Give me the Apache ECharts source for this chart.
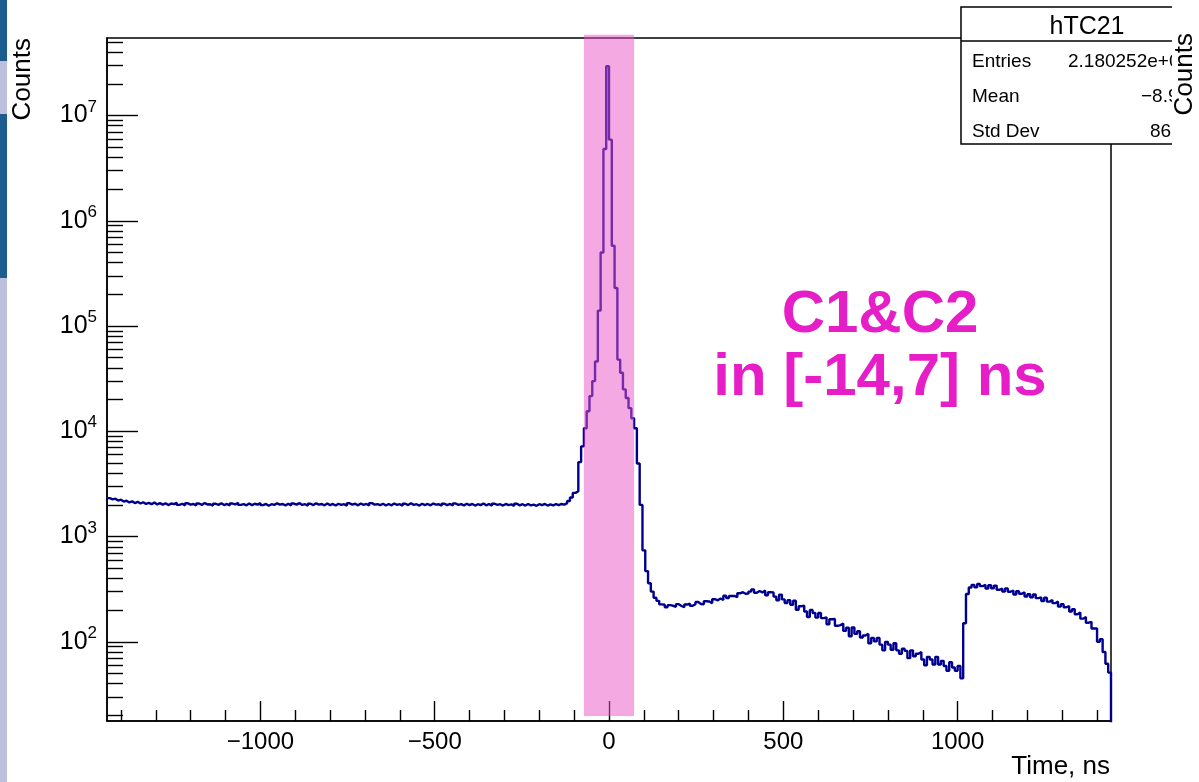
<!DOCTYPE html>
<html><head><meta charset="utf-8">
<script src="https://cdn.jsdelivr.net/npm/echarts@6/dist/echarts.min.js"></script>
<style>html,body{margin:0;padding:0;background:#fff}#c{width:1199px;height:782px}</style>
</head><body><div id="c"></div>
<script>
// ---- histogram hTC21 (8 ns bins from -1440 to 1440 ns) ----
const binStart = -1440;
const binWidth = 8;
// -1440 .. -104 ns : flat random-coincidence level
const flatCounts = [
2320,2260,2290,2200,2240,2150,2190,2110,2160,2080,
2140,2060,2120,2040,2090,2030,2110,2020,2080,2010,
2070,1990,2060,2030,2090,2000,2050,1980,2070,2010,
2040,1970,2060,2000,2080,2020,2030,1960,2050,2000,
2070,1990,2040,1970,2060,2020,2090,2000,2030,1980,
2060,1990,2050,2010,2080,1990,2040,1960,2030,2000,
2070,2010,2040,1980,2050,1970,2060,2010,2080,2000,
2030,1960,2050,1990,2070,2010,2040,1980,2060,1990,
2040,1970,2050,2000,2030,1960,2070,2010,2050,1980,
2060,2000,2040,1970,2080,2010,2030,1990,2050,1970,
2040,1980,2060,2000,2030,1960,2050,1990,2070,2000,
2030,1970,2050,1990,2040,1980,2060,2010,2030,1960,
2050,1990,2040,1970,2060,2000,2030,1980,2050,1990,
2040,1970,2030,1990,2060,1980,2040,1960,2050,2000,
2030,1970,2040,1990,2020,1960,2050,1980,2030,1970,
2040,1980,2010,1960,2030,1990,2040,1970,2020,1980,
2030,1990,2040,2010,2080,2180,2350];
// -104 .. 136 ns : coincidence peak
const peakCounts = [
2600,2700,5100,7200,10700,15500,21600,30000,46000,140000,
500000,4800000,29400000,5900000,580000,230000,48000,36000,25000,20700,
16600,13300,10700,4950,2000,740,470,360,300,262];
// 136 .. 1016 ns : hump and decay
const humpCounts = [
245,227,225,213,223,220,215,228,219,213,
226,231,220,228,239,229,227,243,242,232,
254,248,258,250,274,261,273,273,265,289,
296,286,287,300,315,293,304,295,307,277,
296,295,269,248,281,253,234,249,225,246,
202,218,220,194,172,201,188,170,188,168,
171,147,164,165,142,144,149,127,136,113,
137,119,126,110,115,119,97,109,101,109,
94,83,100,94,84,97,83,77,86,82,
70,83,73,77,80,68,60,72,68,61,
72,61,66,59,53,64,57,53,59,45];
// 1016 .. 1440 ns : late plateau
const lateCounts = [
150,285,328,348,330,355,338,347,321,345,
323,342,312,321,301,322,299,307,282,302,
286,296,270,283,265,282,260,264,244,263,
241,250,233,242,216,228,213,219,194,204,
183,190,166,172,152,155,134,134,100,106,
80,62,51];
const edgeCloseValue = 1;

const xRange = [-1440, 1440];
const yRange = [17.7, 5.45e7];
const xMajorTicks = [-1000, -500, 0, 500, 1000];
const xMinorTicks = [-1400,-1300,-1200,-1100,-900,-800,-700,-600,-400,-300,-200,-100,
                     100,200,300,400,600,700,800,900,1100,1200,1300,1400];
const yMajorTicks = [1e2, 1e3, 1e4, 1e5, 1e6, 1e7];
const yMinorTicks = [20,30,40,50,60,70,80,90,
  200,300,400,500,600,700,800,900,
  2000,3000,4000,5000,6000,7000,8000,9000,
  2e4,3e4,4e4,5e4,6e4,7e4,8e4,9e4,
  2e5,3e5,4e5,5e5,6e5,7e5,8e5,9e5,
  2e6,3e6,4e6,5e6,6e6,7e6,8e6,9e6,
  2e7,3e7,4e7,5e7];
const windowRange = [-72, 72];
const windowYRange = [19.7, 5.85e7];
const statsTitle = 'hTC21';
const statsLabels = ['Entries', 'Mean', 'Std Dev'];
const statsValues = ['2.180252e+08', '\u22128.954', '86.91'];
const annotationLines = ['C1&C2', 'in [-14,7] ns'];

const FONT = '"Liberation Sans", Arial, Helvetica, sans-serif';
const counts = flatCounts.concat(peakCounts, humpCounts, lateCounts);
const points = counts.map((v, i) => [binStart + i * binWidth, v]);
points.push([binStart + counts.length * binWidth, edgeCloseValue]);

const chart = echarts.init(document.getElementById('c'), null, {renderer: 'canvas'});
const black = '#000';
chart.setOption({
  animation: false,
  backgroundColor: '#fff',
  grid: {left: 107, right: 88, top: 38, bottom: 61, show: true, borderColor: black, borderWidth: 1.5,
         backgroundColor: 'transparent', containLabel: false, outerBoundsMode: 'none'},
  xAxis: [{
    type: 'value', min: xRange[0], max: xRange[1], position: 'bottom',
    axisLine: {show: true, onZero: false, lineStyle: {color: black, width: 1.5}},
    axisTick: {show: true, inside: true, length: 20, customValues: xMajorTicks, lineStyle: {color: black, width: 1.4}},
    axisLabel: {show: true, customValues: xMajorTicks, margin: 9, color: black, fontSize: 24, fontFamily: FONT,
      formatter: v => v < 0 ? '\u2212' + (-v) : String(v)},
    splitLine: {show: false}
  }, {
    type: 'value', min: xRange[0], max: xRange[1], position: 'bottom',
    axisLine: {show: false, onZero: false},
    axisTick: {show: true, inside: true, length: 11, customValues: xMinorTicks, lineStyle: {color: black, width: 1.4}},
    axisLabel: {show: false},
    splitLine: {show: false}
  }],
  yAxis: [{
    type: 'log', logBase: 10, min: yRange[0], max: yRange[1], position: 'left',
    axisLine: {show: true, onZero: false, lineStyle: {color: black, width: 1.5}},
    axisTick: {show: true, inside: true, length: 31, customValues: yMajorTicks, lineStyle: {color: black, width: 1.4}},
    axisLabel: {show: true, customValues: yMajorTicks, margin: 10, color: black,
      formatter: v => '{b|10}{s|' + Math.round(Math.log10(v)) + '}',
      rich: {
        b: {fontSize: 25, lineHeight: 34, fontFamily: FONT, color: black},
        s: {fontSize: 17, lineHeight: 17, verticalAlign: 'top', fontFamily: FONT, color: black}
      }},
    splitLine: {show: false}, minorTick: {show: false}
  }, {
    type: 'log', logBase: 10, min: yRange[0], max: yRange[1], position: 'left',
    axisLine: {show: false, onZero: false},
    axisTick: {show: true, inside: true, length: 16, customValues: yMinorTicks, lineStyle: {color: black, width: 1.4}},
    axisLabel: {show: false},
    splitLine: {show: false}
  }],
  series: [{
    type: 'line', xAxisIndex: 0, yAxisIndex: 0, data: points, step: 'end',
    symbol: 'none', showSymbol: false, clip: true, z: 2,
    lineStyle: {color: '#00008f', width: 2.4}
  }]
});

const bx0 = chart.convertToPixel({xAxisIndex: 0}, windowRange[0]);
const bx1 = chart.convertToPixel({xAxisIndex: 0}, windowRange[1]);
const by0 = chart.convertToPixel({yAxisIndex: 0}, windowYRange[1]);
const by1 = chart.convertToPixel({yAxisIndex: 0}, windowYRange[0]);

function txt(o) {
  return Object.assign({type: 'text', z: 100}, o, {
    style: Object.assign({fill: black, textAlign: o.style.align, textVerticalAlign: o.style.verticalAlign}, o.style)
  });
}
const g = [
  {type: 'rect', z: 100, shape: {x: 0, y: 0, width: 7, height: 61}, style: {fill: '#1c5c8e'}},
  {type: 'rect', z: 100, shape: {x: 0, y: 61, width: 7, height: 53}, style: {fill: '#bcc0dc'}},
  {type: 'rect', z: 100, shape: {x: 0, y: 114, width: 7, height: 164}, style: {fill: '#1c5c8e'}},
  {type: 'rect', z: 100, shape: {x: 0, y: 278, width: 7, height: 504}, style: {fill: '#bcc0dc'}},
  {type: 'rect', z: 90, silent: true, shape: {x: bx0, y: by0, width: bx1 - bx0, height: by1 - by0},
    style: {fill: 'rgba(236,84,200,0.5)'}},
  txt({x: 23, y: 38, rotation: Math.PI / 2, style: {text: 'Counts', font: '26px ' + FONT, align: 'right', verticalAlign: 'middle'}}),
  txt({x: 1110, y: 767, style: {text: 'Time, ns', font: '26px ' + FONT, align: 'right', verticalAlign: 'middle'}}),
  txt({x: 880, y: 315, style: {text: annotationLines[0], font: 'bold 60px ' + FONT, fill: '#e61ec8', align: 'center', verticalAlign: 'middle'}}),
  txt({x: 880, y: 378, style: {text: annotationLines[1], font: 'bold 60px ' + FONT, fill: '#e61ec8', align: 'center', verticalAlign: 'middle'}}),
  {type: 'rect', z: 100, shape: {x: 961, y: 7, width: 260, height: 137}, style: {fill: '#fff', stroke: black, lineWidth: 1.5}},
  {type: 'line', z: 101, shape: {x1: 961, y1: 41, x2: 1221, y2: 41}, style: {stroke: black, lineWidth: 1.5}},
  txt({z: 101, x: 1087, y: 27, style: {text: statsTitle, font: '25px ' + FONT, align: 'center', verticalAlign: 'middle'}}),
];
const rowY = [62, 97, 132];
const valX = [1068, 1141, 1150];
statsLabels.forEach((l, i) => {
  g.push(txt({z: 101, x: 972, y: rowY[i], style: {text: l, font: '19px ' + FONT, align: 'left', verticalAlign: 'middle'}}));
  g.push(txt({z: 101, x: valX[i], y: rowY[i], style: {text: statsValues[i], font: '19px ' + FONT, align: 'left', verticalAlign: 'middle'}}));
});
g.push({type: 'rect', z: 110, shape: {x: 1172, y: 0, width: 27, height: 160}, style: {fill: '#fff'}});
g.push(txt({z: 111, x: 1185, y: 33, rotation: Math.PI / 2, style: {text: 'Counts', font: '26px ' + FONT, align: 'right', verticalAlign: 'middle'}}));
chart.setOption({graphic: {elements: g}});
</script></body></html>
